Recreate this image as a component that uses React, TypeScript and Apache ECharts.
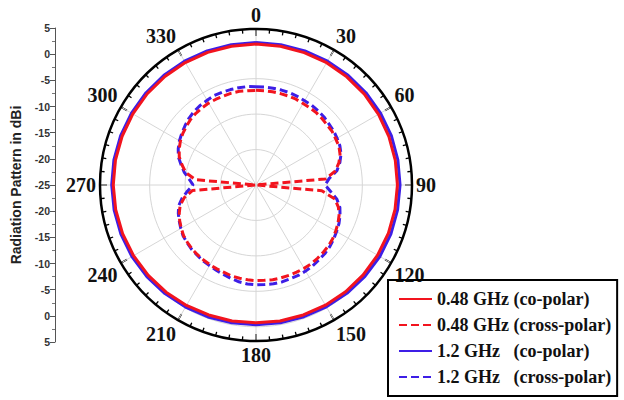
import React, { useEffect, useRef } from 'react';
import * as echarts from 'echarts';

// Angles (degrees) for the co-polar data (10° step)
const ANGLES_CO = [0, 10, 20, 30, 40, 50, 60, 70, 80, 90, 100, 110, 120, 130, 140, 150, 160, 170,
  180, 190, 200, 210, 220, 230, 240, 250, 260, 270, 280, 290, 300, 310, 320, 330, 340, 350];
// Angles (degrees) for the cross-polar data (5° step)
const ANGLES_CROSS = [0, 5, 10, 15, 20, 25, 30, 35, 40, 45, 50, 55, 60, 65, 70, 75, 80, 85, 90, 95,
  100, 105, 110, 115, 120, 125, 130, 135, 140, 145, 150, 155, 160, 165, 170, 175, 180, 185, 190, 195,
  200, 205, 210, 215, 220, 225, 230, 235, 240, 245, 250, 255, 260, 265, 270, 275, 280, 285, 290, 295,
  300, 305, 310, 315, 320, 325, 330, 335, 340, 345, 350, 355];

// dBi values
const RED_CO = [2.1, 2.1, 2.1, 2.15, 2.15, 2.2, 2.2, 2.2, 2.2, 2.2, 2.15, 2.1, 2.0, 1.9, 1.8, 1.7, 1.6, 1.55,
  1.5, 1.55, 1.6, 1.75, 1.9, 2.05, 2.2, 2.3, 2.4, 2.45, 2.45, 2.4, 2.35, 2.3, 2.25, 2.2, 2.15, 2.1];
const BLUE_CO = [2.4, 2.4, 2.45, 2.5, 2.55, 2.6, 2.65, 2.7, 2.7, 2.7, 2.65, 2.6, 2.5, 2.35, 2.2, 2.05, 1.95, 1.9,
  1.9, 1.9, 2.0, 2.1, 2.25, 2.4, 2.55, 2.65, 2.7, 2.75, 2.75, 2.7, 2.65, 2.6, 2.55, 2.5, 2.45, 2.4];
const RED_CROSS = [-6.8, -6.8, -6.8, -6.8, -6.8, -6.8, -6.9, -6.9, -6.9, -7.0, -7.1, -7.1, -7.3, -7.4, -7.8, -8.5, -9.5, -11.6, -25, -12.3,
  -9.6, -8.6, -8.0, -7.6, -7.3, -7.0, -6.8, -6.7, -6.6, -6.5, -6.5, -6.5, -6.5, -6.5, -6.5, -6.6, -6.6, -6.7, -6.8, -6.9,
  -7.1, -7.2, -7.3, -7.4, -7.5, -7.6, -7.8, -8.0, -8.4, -8.8, -9.3, -9.9, -11.0, -12.7, -25, -13.3, -11.3, -10.3, -9.3, -8.7,
  -8.2, -7.8, -7.5, -7.2, -7.0, -6.9, -6.8, -6.8, -6.8, -6.7, -6.7, -6.8];
const BLUE_CROSS = [-6.1, -6.1, -6.1, -6.1, -6.1, -6.2, -6.3, -6.3, -6.4, -6.5, -6.7, -6.8, -7.0, -7.2, -7.6, -8.3, -9.2, -10.9, -11.7, -10.6,
  -9.2, -8.3, -7.8, -7.4, -7.1, -6.8, -6.5, -6.3, -6.2, -6.0, -5.9, -5.8, -5.8, -5.7, -5.7, -5.8, -5.8, -5.9, -6.1, -6.4,
  -6.7, -6.9, -7.1, -7.2, -7.4, -7.5, -7.7, -7.9, -8.3, -8.7, -9.1, -9.6, -10.6, -11.8, -12.9, -12.1, -11.0, -10.1, -9.1, -8.5,
  -8.0, -7.6, -7.2, -6.8, -6.5, -6.3, -6.2, -6.0, -6.0, -6.0, -6.0, -6.0];

const NAMES = [
  '0.48 GHz (co-polar)',
  '0.48 GHz (cross-polar)',
  '1.2 GHz\u00a0\u00a0\u00a0(co-polar)',
  '1.2 GHz\u00a0\u00a0\u00a0(cross-polar)',
];
const RED = '#f2141e';
const BLUE = '#3d1ee6';

function toPairs(vals: number[], angs: number[]) {
  const d = vals.map((v, i) => [v, angs[i]]);
  d.push([vals[0], 360]);
  return d;
}

export default function App() {
  const ref = useRef<HTMLDivElement>(null);
  useEffect(() => {
    const chart = echarts.init(ref.current!, null, { renderer: 'svg' });
    const CENTER = [256, 185];
    const R = 156;
    const lineSeries = (name: string, data: number[][], color: string, dashed: boolean) => ({
      type: 'line',
      name,
      coordinateSystem: 'polar',
      polarIndex: 0,
      data,
      symbol: 'none',
      smooth: false,
      lineStyle: { color, width: 3, type: dashed ? [8, 4] : 'solid' },
      itemStyle: { color },
    });
    const option: any = {
      animation: false,
      backgroundColor: '#ffffff',
      polar: [
        { center: CENTER, radius: R },
        { center: CENTER, radius: R },
      ],
      angleAxis: [
        {
          polarIndex: 0, type: 'value', min: 0, max: 360, interval: 30, startAngle: 90, clockwise: true,
          axisLine: { lineStyle: { color: '#000', width: 2.5 } },
          axisTick: { inside: true, length: 7, lineStyle: { color: '#000', width: 1.6 } },
          minorTick: { show: true, splitNumber: 6, length: 4, lineStyle: { color: '#000', width: 1.3 } },
          axisLabel: {
            margin: 4, color: '#111', fontFamily: 'Liberation Serif', fontWeight: 'bold', fontSize: 20,
            formatter: (v: number) => (v === 360 ? '' : String(v)),
          },
          splitLine: { show: true, lineStyle: { color: '#d6d6d6', width: 1 } },
        },
        { polarIndex: 1, type: 'value', min: 0, max: 360, show: false },
      ],
      radiusAxis: [
        { polarIndex: 0, type: 'value', min: -25, max: 5, show: false },
        {
          polarIndex: 1, type: 'value', min: 0, max: 4.4, interval: 1,
          axisLine: { show: false }, axisTick: { show: false }, axisLabel: { show: false },
          splitLine: { show: true, lineStyle: { color: '#d6d6d6', width: 1 } },
        },
      ],
      grid: { left: 55, top: 28, width: 1, height: 314 },
      xAxis: { type: 'value', show: false, min: 0, max: 1 },
      yAxis: {
        type: 'value', min: -30, max: 30, interval: 5,
        name: 'Radiation Pattern in dBi', nameLocation: 'middle', nameGap: 32,
        nameTextStyle: { fontFamily: 'Liberation Sans', fontWeight: 'bold', fontSize: 14, color: '#222' },
        axisLine: { show: true, lineStyle: { color: '#555', width: 1 } },
        axisTick: { show: true, length: 5, lineStyle: { color: '#555' } },
        minorTick: { show: true, splitNumber: 2, length: 3, lineStyle: { color: '#777' } },
        axisLabel: {
          margin: 5, color: '#333', fontFamily: 'Liberation Sans', fontWeight: 'bold', fontSize: 10.5,
          formatter: (v: number) => String(Math.abs(v) - 25),
        },
        splitLine: { show: false },
      },
      legend: {
        left: 388, top: 280, orient: 'vertical',
        borderColor: '#000', borderWidth: 2, padding: [10, 6, 10, 10],
        itemWidth: 33, itemHeight: 12, itemGap: 8,
        itemStyle: { opacity: 0 },
        data: NAMES,
        textStyle: { fontFamily: 'Liberation Serif', fontWeight: 'bold', fontSize: 18, color: '#111' },
      },
      series: [
        lineSeries(NAMES[2], toPairs(BLUE_CO, ANGLES_CO), BLUE, false),
        lineSeries(NAMES[3], toPairs(BLUE_CROSS, ANGLES_CROSS), BLUE, true),
        lineSeries(NAMES[0], toPairs(RED_CO, ANGLES_CO), RED, false),
        lineSeries(NAMES[1], toPairs(RED_CROSS, ANGLES_CROSS), RED, true),
      ],
    };
    chart.setOption(option);
    return () => chart.dispose();
  }, []);
  return <div ref={ref} style={{ position: 'fixed', left: 0, top: 0, width: 624, height: 400 }} />;
}
